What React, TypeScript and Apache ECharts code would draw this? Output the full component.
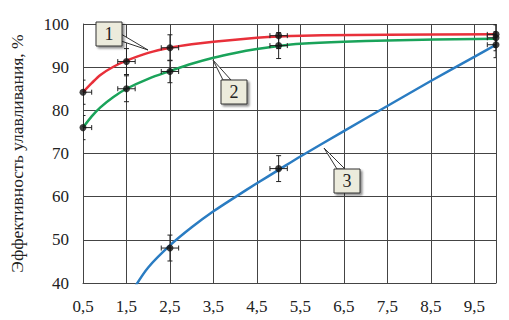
import React, { useEffect, useRef } from "react";
import * as echarts from "echarts";

// Axis ticks
const xTicks = [0.5, 1.5, 2.5, 3.5, 4.5, 5.5, 6.5, 7.5, 8.5, 9.5];
const yMin = 40;
const yMax = 100;
const xMin = 0.5;
const xMax = 10;
const yTitle = "Эффективность улавливания, %";

// Fitted curves [x, y]
const curve1: number[][] = [
  [0.5, 84.2], [0.7, 86.3], [0.9, 88.2], [1.2, 90.1], [1.5, 91.5], [2.0, 93.3],
  [2.5, 94.5], [3.0, 95.3], [3.5, 95.9], [4.5, 96.8], [5.0, 97.1], [6.0, 97.4],
  [7.5, 97.5], [10, 97.6],
];
const curve2: number[][] = [
  [0.5, 76], [0.7, 78.6], [0.9, 80.7], [1.2, 83.1], [1.5, 85], [2.0, 87.3],
  [2.5, 89.1], [3.0, 90.8], [3.5, 92.2], [4.0, 93.3], [4.5, 94.2], [5.0, 94.9],
  [5.5, 95.4], [6.5, 95.9], [7.5, 96.2], [10, 96.6],
];
const curve3: number[][] = [
  [1.7, 39.2], [2.0, 43.6], [2.5, 48.7], [3.0, 52.9], [3.5, 56.6], [4.0, 59.9],
  [4.5, 63.1], [5.0, 66.2], [5.5, 69.3], [6.5, 75.2], [7.5, 81], [8.5, 86.8],
  [9.5, 92.4], [10, 95.2],
];

// Measured points [x, y, yErr, xErr]
const points1: number[][] = [
  [0.5, 84.2, 2.8, 0.2], [1.5, 91.3, 3, 0.2], [2.5, 94.5, 3, 0.2], [5, 97.3, 3, 0.2], [10, 97.6, 3, 0.2],
];
const points2: number[][] = [
  [0.5, 76, 2.8, 0.2], [1.5, 85, 3, 0.2], [2.5, 89, 2.6, 0.2], [5, 95, 3, 0.2], [10, 96.8, 3, 0.2],
];
const points3: number[][] = [
  [2.5, 48.1, 3, 0.2], [5, 66.5, 3, 0.2], [10, 95.2, 3, 0.2],
];

const colors = ["#e8303a", "#1aa35a", "#2a7cc2"];
const FONT = "Liberation Serif";

const shift = (arr: number[][]) => arr.map((p) => [p[0] - xMin, ...p.slice(1)]);

export default function App() {
  const ref = useRef<HTMLDivElement>(null);
  useEffect(() => {
    if (!ref.current) return;
    const chart = echarts.init(ref.current, null, { renderer: "svg" });

    const errRender = (params: any, api: any) => {
      const x = api.value(0);
      const y = api.value(1);
      const ye = api.value(2);
      const xe = api.value(3);
      const top = api.coord([x, y + ye]);
      const bot = api.coord([x, y - ye]);
      const lft = api.coord([x - xe, y]);
      const rgt = api.coord([x + xe, y]);
      const c = 2.5;
      const st = { stroke: "#222", lineWidth: 1 };
      return {
        type: "group",
        children: [
          { type: "line", shape: { x1: top[0], y1: top[1], x2: bot[0], y2: bot[1] }, style: st },
          { type: "line", shape: { x1: top[0] - c, y1: top[1], x2: top[0] + c, y2: top[1] }, style: st },
          { type: "line", shape: { x1: bot[0] - c, y1: bot[1], x2: bot[0] + c, y2: bot[1] }, style: st },
          { type: "line", shape: { x1: lft[0], y1: lft[1], x2: rgt[0], y2: rgt[1] }, style: st },
          { type: "line", shape: { x1: lft[0], y1: lft[1] - c, x2: lft[0], y2: lft[1] + c }, style: st },
          { type: "line", shape: { x1: rgt[0], y1: rgt[1] - c, x2: rgt[0], y2: rgt[1] + c }, style: st },
        ],
      };
    };

    const curves = [curve1, curve2, curve3];
    const pts = [points1, points2, points3];
    const series: any[] = [];
    curves.forEach((cv, i) => {
      series.push({
        type: "line",
        data: shift(cv),
        smooth: 0.3,
        showSymbol: false,
        clip: true,
        lineStyle: { color: colors[i], width: 2.5 },
        z: 2,
      });
    });
    pts.forEach((p) => {
      series.push({
        type: "custom",
        renderItem: errRender,
        data: shift(p),
        clip: true,
        z: 3,
      });
      series.push({
        type: "scatter",
        data: shift(p).map((q) => [q[0], q[1]]),
        symbol: "circle",
        symbolSize: 7,
        itemStyle: { color: "#111" },
        clip: true,
        z: 4,
      });
    });

    const box = (x: number, y: number, label: string) => ({
      type: "group",
      children: [
        {
          type: "rect",
          shape: { x, y, width: 26, height: 24 },
          style: {
            fill: "#ecebdc",
            stroke: "#333",
            lineWidth: 1,
            shadowColor: "rgba(0,0,0,0.45)",
            shadowOffsetX: 2,
            shadowOffsetY: 2,
            shadowBlur: 2,
          },
          z: 10,
        },
        {
          type: "text",
          x: x + 13,
          y: y + 12,
          style: {
            text: label,
            fontFamily: FONT,
            fontSize: 18,
            fill: "#222",
            align: "center",
            verticalAlign: "middle",
          },
          z: 11,
        },
      ],
    });
    const leader = (pts: number[][]) => ({
      type: "polygon",
      shape: { points: pts },
      style: { fill: "#fff", stroke: "#333", lineWidth: 1 },
      z: 9,
    });

    chart.setOption({
      animation: false,
      textStyle: { fontFamily: FONT },
      grid: { left: 75, right: 13, top: 24, bottom: 37, containLabel: false },
      xAxis: {
        type: "value",
        min: 0,
        max: xMax - xMin,
        interval: 1,
        axisLine: { show: true, lineStyle: { color: "#444", width: 1 } },
        axisTick: { show: false },
        splitLine: { show: true, lineStyle: { color: "#444", width: 1 } },
        axisLabel: {
          margin: 15,
          fontFamily: FONT,
          fontSize: 17,
          color: "#222",
          formatter: (v: number) => {
            const t = xTicks.find((tk) => Math.abs(tk - xMin - v) < 1e-6);
            return t === undefined ? "" : t.toFixed(1).replace(".", ",");
          },
        },
      },
      yAxis: {
        type: "value",
        min: yMin,
        max: yMax,
        interval: 10,
        name: yTitle,
        nameLocation: "middle",
        nameGap: 57,
        nameRotate: 90,
        nameTextStyle: { fontFamily: FONT, fontSize: 17.5, color: "#222" },
        axisLine: { show: true, lineStyle: { color: "#444", width: 1 } },
        axisTick: { show: false },
        splitLine: { show: true, lineStyle: { color: "#444", width: 1 } },
        axisLabel: { margin: 14, fontFamily: FONT, fontSize: 17, color: "#222" },
      },
      graphic: [
        leader([[121, 34], [148, 50], [121, 41]]),
        box(96, 22, "1"),
        leader([[223, 80], [213, 60], [231, 80]]),
        box(221, 80, "2"),
        leader([[337, 169], [324, 148], [345, 169]]),
        box(334, 169, "3"),
      ],
      series,
    });
    return () => chart.dispose();
  }, []);
  return (
    <div
      ref={ref}
      style={{ position: "fixed", left: 0, top: 0, width: 509, height: 320, background: "#fff" }}
    />
  );
}
